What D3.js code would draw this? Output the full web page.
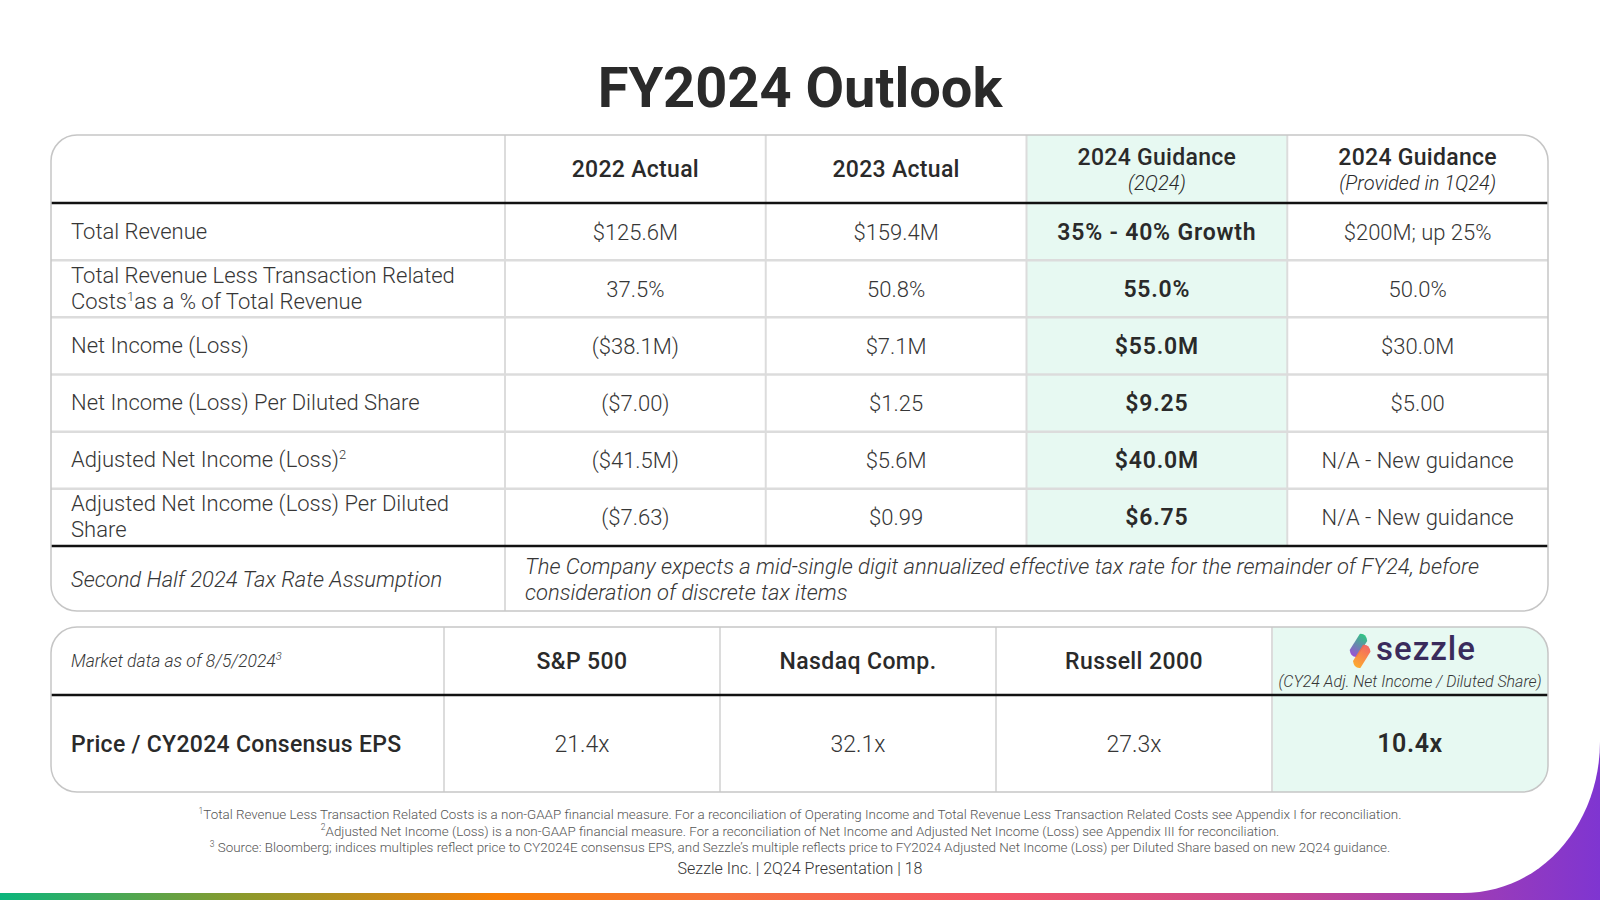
<!DOCTYPE html>
<html>
<head>
<meta charset="utf-8">
<script src="https://cdn.jsdelivr.net/npm/d3@7"></script>
<style>
  html, body { margin: 0; padding: 0; background: #fff; }
  svg { display: block; }
  text { font-family: Roboto, "Noto Sans", sans-serif; }
</style>
</head>
<body>
<svg id="chart" width="1600" height="900"></svg>
<script>
// ---------------- DATA ----------------
const title = "FY2024 Outlook";
const columns = ["2022 Actual", "2023 Actual", "2024 Guidance", "2024 Guidance"];
const columnSubs = ["", "", "(2Q24)", "(Provided in 1Q24)"];
const rowLabels = [
  ["Total Revenue"],
  ["Total Revenue Less Transaction Related", "Costs{1}as a % of Total Revenue"],
  ["Net Income (Loss)"],
  ["Net Income (Loss) Per Diluted Share"],
  ["Adjusted Net Income (Loss){2}"],
  ["Adjusted Net Income (Loss) Per Diluted", "Share"]
];
const actual2022 = ["$125.6M", "37.5%", "($38.1M)", "($7.00)", "($41.5M)", "($7.63)"];
const actual2023 = ["$159.4M", "50.8%", "$7.1M", "$1.25", "$5.6M", "$0.99"];
const guidance2Q24 = ["35% - 40% Growth", "55.0%", "$55.0M", "$9.25", "$40.0M", "$6.75"];
const guidance1Q24 = ["$200M; up 25%", "50.0%", "$30.0M", "$5.00", "N/A - New guidance", "N/A - New guidance"];
const taxLabel = "Second Half 2024 Tax Rate Assumption";
const taxText = ["The Company expects a mid-single digit annualized effective tax rate for the remainder of FY24, before",
                 "consideration of discrete tax items"];

const marketNote = "Market data as of 8/5/2024{3}";
const indices = ["S&P 500", "Nasdaq Comp.", "Russell 2000", "sezzle"];
const sezzleSub = "(CY24 Adj. Net Income / Diluted Share)";
const peLabel = "Price / CY2024 Consensus EPS";
const peMultiples = ["21.4x", "32.1x", "27.3x", "10.4x"];

const footnotes = [
  "{1}Total Revenue Less Transaction Related Costs is a non-GAAP financial measure. For a reconciliation of Operating Income and Total Revenue Less Transaction Related Costs see Appendix I for reconciliation.",
  "{2}Adjusted Net Income (Loss) is a non-GAAP financial measure. For a reconciliation of Net Income and Adjusted Net Income (Loss) see Appendix III for reconciliation.",
  "{3} Source: Bloomberg; indices multiples reflect price to CY2024E consensus EPS, and Sezzle\u2019s multiple reflects price to FY2024 Adjusted Net Income (Loss) per Diluted Share based on new 2Q24 guidance."
];
const footer = "Sezzle Inc. | 2Q24 Presentation | 18";

// ---------------- STYLE / LAYOUT ----------------
const W = 1600, H = 900;
const TXT = "#363636", DARK = "#2a2a2a", MINT = "#e7f9f2", GRID = "#dcdcdc", OUTLINE = "#c6c6c6";
const svg = d3.select("#chart");
const defs = svg.append("defs");

// bottom gradient
const bg = defs.append("linearGradient").attr("id", "barGrad").attr("x1", 0).attr("x2", 1).attr("y1", 0).attr("y2", 0);
[[0, "#0bb57c"], [0.15, "#8a9a2c"], [0.31, "#f77f06"], [0.45, "#f7713a"], [0.62, "#f45565"], [0.8, "#c9478f"], [1, "#7f35d1"]]
  .forEach(([o, c]) => bg.append("stop").attr("offset", o).attr("stop-color", c));

svg.append("rect").attr("x", 0).attr("y", 700).attr("width", W).attr("height", 200).attr("fill", "url(#barGrad)");
// white slide with rounded bottom-right corner
svg.append("path")
  .attr("d", `M0,0 H${W} V742 C${W},820 1545,893 1462,893 H0 Z`)
  .attr("fill", "#fff");

// Title
svg.append("text").attr("x", 800).attr("y", 107).attr("text-anchor", "middle")
  .attr("font-size", 56).attr("font-weight", 700).attr("fill", DARK).text(title);

// helper: text with {n} superscripts
function richText(sel, str, supSize) {
  const parts = str.split(/(\{\d\})/).filter(s => s.length);
  let shift = 0;
  parts.forEach(p => {
    const m = p.match(/^\{(\d)\}$/);
    if (m) {
      const up = -supSize * 0.6;
      sel.append("tspan").attr("font-size", supSize).attr("dy", up - shift).text(m[1]);
      shift = up;
    } else {
      const ts = sel.append("tspan").text(p);
      if (shift !== 0) { ts.attr("dy", -shift); shift = 0; }
    }
  });
}

// ---------------- TABLE 1 ----------------
const t1 = { x0: 51, x1: 1548, y0: 135, yHead: 203, yBody: 546, y1: 611, labelX: 505, r: 26 };
const xCol = d3.scaleBand().domain(d3.range(columns.length)).range([t1.labelX, t1.x1]);
const yRow = d3.scaleBand().domain(d3.range(rowLabels.length)).range([t1.yHead, t1.yBody]);

const g1 = svg.append("g");
defs.append("clipPath").attr("id", "clip1").append("rect")
  .attr("x", t1.x0).attr("y", t1.y0).attr("width", t1.x1 - t1.x0).attr("height", t1.y1 - t1.y0).attr("rx", t1.r);

g1.append("rect").attr("x", xCol(2)).attr("y", t1.y0).attr("width", xCol.bandwidth()).attr("height", t1.yBody - t1.y0)
  .attr("fill", MINT).attr("clip-path", "url(#clip1)");

g1.selectAll("line.row").data(d3.range(1, rowLabels.length)).join("line")
  .attr("x1", t1.x0).attr("x2", t1.x1).attr("y1", d => yRow(d)).attr("y2", d => yRow(d))
  .attr("stroke", GRID).attr("stroke-width", 2.5);
g1.selectAll("line.col").data(d3.range(columns.length)).join("line")
  .attr("x1", d => xCol(d)).attr("x2", d => xCol(d)).attr("y1", t1.y0).attr("y2", d => d === 0 ? t1.y1 : t1.yBody)
  .attr("stroke", GRID).attr("stroke-width", 2);
[t1.yHead, t1.yBody].forEach(y => g1.append("line").attr("x1", t1.x0).attr("x2", t1.x1).attr("y1", y).attr("y2", y)
  .attr("stroke", "#111").attr("stroke-width", 2.5));
g1.append("rect").attr("x", t1.x0).attr("y", t1.y0).attr("width", t1.x1 - t1.x0).attr("height", t1.y1 - t1.y0)
  .attr("rx", t1.r).attr("fill", "none").attr("stroke", OUTLINE).attr("stroke-width", 1.5);

// headers
const headMid = (t1.y0 + t1.yHead) / 2;
columns.forEach((c, i) => {
  const cx = xCol(i) + xCol.bandwidth() / 2;
  const hasSub = columnSubs[i] !== "";
  g1.append("text").attr("x", cx).attr("y", hasSub ? headMid - 4 : headMid + 8).attr("text-anchor", "middle")
    .attr("font-size", 23).attr("font-weight", 500).attr("letter-spacing", 0.3).attr("fill", DARK).text(c);
  if (hasSub) g1.append("text").attr("x", cx).attr("y", headMid + 21).attr("text-anchor", "middle")
    .attr("font-size", 20).attr("font-weight", 300).attr("font-style", "italic").attr("fill", DARK).text(columnSubs[i]);
});

// body
const seriesCols = [actual2022, actual2023, guidance2Q24, guidance1Q24];
rowLabels.forEach((lab, r) => {
  const cy = yRow(r) + yRow.bandwidth() / 2;
  lab.forEach((line, k) => {
    const y = cy + 7 + (k - (lab.length - 1) / 2) * 26;
    const t = g1.append("text").attr("x", 71).attr("y", y).attr("font-size", 22).attr("font-weight", 300).attr("fill", TXT);
    richText(t, line, 13);
  });
  seriesCols.forEach((vals, c) => {
    const bold = c === 2;
    g1.append("text").attr("x", xCol(c) + xCol.bandwidth() / 2).attr("y", cy + 8).attr("text-anchor", "middle")
      .attr("font-size", bold ? 23 : 22).attr("font-weight", bold ? 600 : 300)
      .attr("letter-spacing", bold ? 0.8 : 0).attr("fill", bold ? DARK : TXT).text(vals[r]);
  });
});
// tax row
const taxMid = (t1.yBody + t1.y1) / 2;
g1.append("text").attr("x", 71).attr("y", taxMid + 8).attr("font-size", 22).attr("font-weight", 300)
  .attr("font-style", "italic").attr("fill", TXT).text(taxLabel);
taxText.forEach((line, k) => g1.append("text").attr("x", 525).attr("y", taxMid + 8 + (k - 0.5) * 26)
  .attr("font-size", 22).attr("font-weight", 300).attr("font-style", "italic").attr("fill", TXT).text(line));

// ---------------- TABLE 2 ----------------
const t2 = { x0: 51, x1: 1548, y0: 627, yHead: 695, y1: 792, labelX: 444, r: 26 };
const xIdx = d3.scaleBand().domain(d3.range(indices.length)).range([t2.labelX, t2.x1]);
const g2 = svg.append("g");
defs.append("clipPath").attr("id", "clip2").append("rect")
  .attr("x", t2.x0).attr("y", t2.y0).attr("width", t2.x1 - t2.x0).attr("height", t2.y1 - t2.y0).attr("rx", t2.r);
g2.append("rect").attr("x", xIdx(3)).attr("y", t2.y0).attr("width", xIdx.bandwidth()).attr("height", t2.y1 - t2.y0)
  .attr("fill", MINT).attr("clip-path", "url(#clip2)");
g2.selectAll("line.col").data(d3.range(indices.length)).join("line")
  .attr("x1", d => xIdx(d)).attr("x2", d => xIdx(d)).attr("y1", t2.y0).attr("y2", t2.y1)
  .attr("stroke", GRID).attr("stroke-width", 2);
g2.append("line").attr("x1", t2.x0).attr("x2", t2.x1).attr("y1", t2.yHead).attr("y2", t2.yHead)
  .attr("stroke", "#111").attr("stroke-width", 2.5);
g2.append("rect").attr("x", t2.x0).attr("y", t2.y0).attr("width", t2.x1 - t2.x0).attr("height", t2.y1 - t2.y0)
  .attr("rx", t2.r).attr("fill", "none").attr("stroke", OUTLINE).attr("stroke-width", 1.5);

const h2Mid = (t2.y0 + t2.yHead) / 2, b2Mid = (t2.yHead + t2.y1) / 2;
const mn = g2.append("text").attr("x", 71).attr("y", h2Mid + 6).attr("font-size", 17.5).attr("font-weight", 300)
  .attr("font-style", "italic").attr("fill", TXT);
richText(mn, marketNote, 11);

const gA = defs.append("linearGradient").attr("id", "lgA").attr("x1", 0).attr("y1", 0).attr("x2", 0).attr("y2", 1);
gA.append("stop").attr("offset", 0).attr("stop-color", "#2fc683");
gA.append("stop").attr("offset", 1).attr("stop-color", "#9b4fd6");
const gB = defs.append("linearGradient").attr("id", "lgB").attr("x1", 0).attr("y1", 0).attr("x2", 0).attr("y2", 1);
gB.append("stop").attr("offset", 0).attr("stop-color", "#f45a5a");
gB.append("stop").attr("offset", 1).attr("stop-color", "#ffa51c");

indices.forEach((name, i) => {
  const cx = xIdx(i) + xIdx.bandwidth() / 2;
  if (i < 3) {
    g2.append("text").attr("x", cx).attr("y", h2Mid + 8).attr("text-anchor", "middle")
      .attr("font-size", 23).attr("font-weight", 500).attr("letter-spacing", 0.4).attr("fill", DARK).text(name);
  } else {
    const lg = g2.append("g");
    const ix = cx - 55, iy = h2Mid - 10;
    lg.append("path").attr("transform", `translate(${ix},${iy}) rotate(32)`)
      .attr("d", "M-5,-17 Q0,-21 5,-15 L5,4 Q0,8 -5,2 Z").attr("fill", "url(#lgA)");
    lg.append("path").attr("transform", `translate(${ix + 7},${iy + 5}) rotate(32)`)
      .attr("d", "M-5,-10 Q0,-14 5,-8 L5,11 Q0,15 -5,9 Z").attr("fill", "url(#lgB)").attr("opacity", 0.92);
    lg.append("text").attr("x", cx - 34).attr("y", h2Mid - 1).attr("font-size", 33).attr("font-weight", 500)
      .attr("letter-spacing", 1).attr("fill", "#3a2b5c").text(name);
    g2.append("text").attr("x", cx).attr("y", h2Mid + 26).attr("text-anchor", "middle").attr("font-size", 16)
      .attr("font-weight", 300).attr("font-style", "italic").attr("fill", TXT).text(sezzleSub);
  }
  const bold = i === 3;
  g2.append("text").attr("x", cx).attr("y", b2Mid + 8).attr("text-anchor", "middle").attr("font-size", bold ? 25 : 23)
    .attr("font-weight", bold ? 600 : 300).attr("letter-spacing", bold ? 0.6 : 0).attr("fill", bold ? DARK : TXT).text(peMultiples[i]);
});
g2.append("text").attr("x", 71).attr("y", b2Mid + 8).attr("font-size", 23).attr("font-weight", 500)
  .attr("letter-spacing", 0.3).attr("fill", DARK).text(peLabel);

// ---------------- FOOTNOTES ----------------
footnotes.forEach((f, i) => {
  const t = svg.append("text").attr("x", 800).attr("y", 819 + i * 16.5).attr("text-anchor", "middle")
    .attr("font-size", 13.4).attr("font-weight", 300).attr("fill", "#555");
  richText(t, f, 8.5);
});
svg.append("text").attr("x", 800).attr("y", 874).attr("text-anchor", "middle").attr("font-size", 16)
  .attr("font-weight", 300).attr("fill", "#333").text(footer);
</script>
</body>
</html>
